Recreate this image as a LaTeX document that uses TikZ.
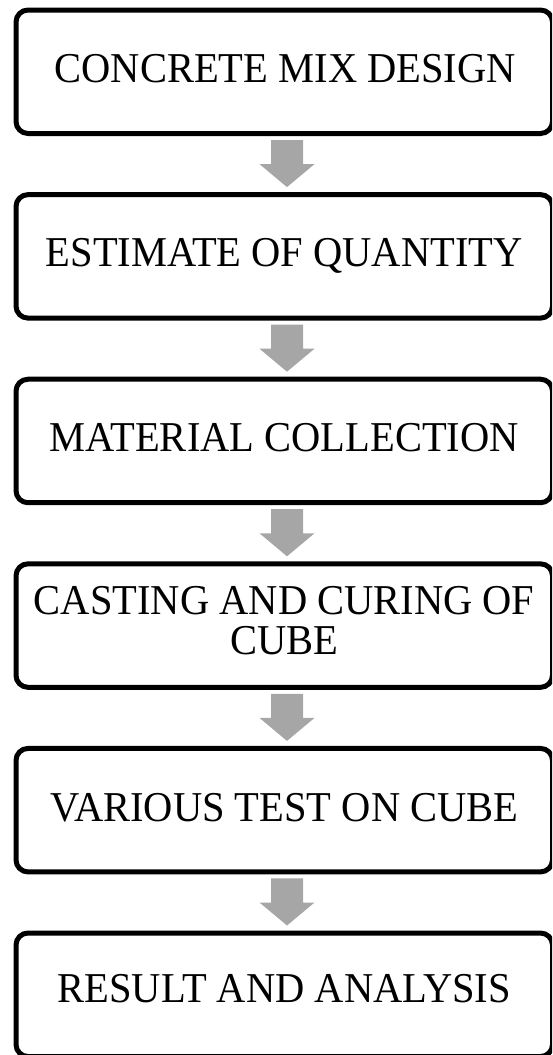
\documentclass[tikz,border=0pt]{standalone}
\usepackage{fontspec}
\setmainfont{Liberation Serif}
\usetikzlibrary{calc}
\definecolor{arrowgray}{HTML}{A6A6A6}
\tikzset{
  stepbox/.style={draw=black, line width=5pt, rounded corners=12pt,
    minimum width=536.5pt, minimum height=123.5pt, inner sep=0pt, outer sep=0pt},
  steptext/.style={font=\fontsize{40.5}{38}\selectfont, align=center,
    inner sep=0pt, yscale=1.05, transform shape},
  flowarrow/.style={fill=arrowgray}
}
\begin{document}
\begin{tikzpicture}[x=1pt,y=-1pt]
\useasboundingbox (0,0) rectangle (552,1055);
\clip (0,0) rectangle (552,1055);
\node[stepbox] (b1) at (284.25,71.75) {};
\node[stepbox] (b2) at (284.25,256.35) {};
\node[stepbox] (b3) at (284.25,440.95) {};
\node[stepbox] (b4) at (284.25,625.55) {};
\node[stepbox] (b5) at (284.25,810.15) {};
\node[stepbox] (b6) at (284.25,994.75) {};
\node[steptext] (t1) at ($(b1.center)+(1,-3)$) {CONCRETE MIX DESIGN};
\node[steptext] (t2) at ($(b2.center)+(0,0)$) {ESTIMATE OF QUANTITY};
\node[steptext] (t3) at ($(b3.center)+(0,-3)$) {MATERIAL COLLECTION};
\node[steptext] (t4) at ($(b4.center)+(0,-5)$) {CASTING AND CURING OF\\CUBE};
\node[steptext] (t5) at ($(b5.center)+(0,-2)$) {VARIOUS TEST ON CUBE};
\node[steptext] (t6) at ($(b6.center)+(0,-6)$) {RESULT AND ANALYSIS};
\foreach \a/\b in {b1/b2,b2/b3,b3/b4,b4/b5,b5/b6}{
  \coordinate (s) at ($(\a.south)+(2.75,6.5)$);
  \coordinate (t) at ($(\b.north)+(2.75,-7.5)$);
  \fill[flowarrow] ($(s)+(-16,0)$) -- ($(s)+(16,0)$) -- ($(t)+(16,-23)$)
    -- ($(t)+(27.5,-23)$) -- (t) -- ($(t)+(-27.5,-23)$) -- ($(t)+(-16,-23)$) -- cycle;
}
\end{tikzpicture}
\end{document}
